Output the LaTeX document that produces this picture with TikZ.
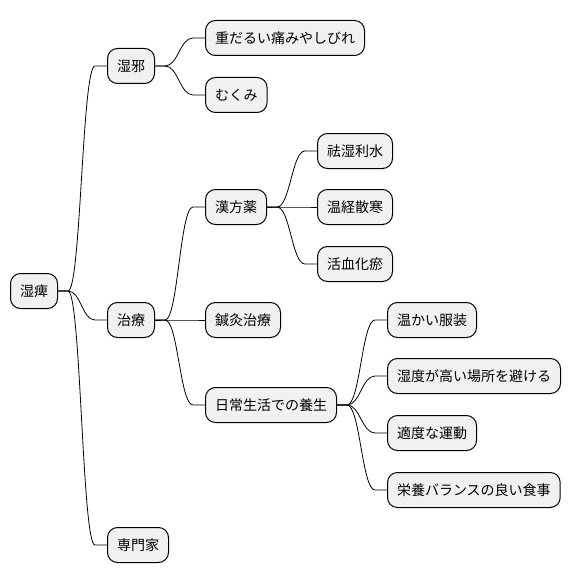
\documentclass[tikz,border=0pt]{standalone}
\usepackage{fontspec}
\newfontfamily\jpfont{Noto Sans CJK JP}
\usepackage{tikz}
\definecolor{topicGray}{RGB}{241,241,241}

\begin{document}
\begin{tikzpicture}[x=1pt,y=-1pt,every node/.style={anchor=west},
  topic/.style={draw,line width=1pt,rounded corners=10pt,fill=topicGray,font=\jpfont\fontsize{14}{16}\selectfont,inner xsep=9.5pt,minimum height=35pt}]
\useasboundingbox (0,0) rectangle (572,583);
% root and first level
\node[topic] (root) at (10,291) {湿痺};
\node[topic] (jaki) at (107,66) {湿邪};
\node[topic] (chiryo) at (107,320) {治療};
\node[topic] (senmon) at (107,545) {専門家};
% second level
\node[topic] (itami) at (205,38) {重だるい痛みやしびれ};
\node[topic] (mukumi) at (205,95) {むくみ};
\node[topic] (kampo) at (205,207) {漢方薬};
\node[topic] (shinkyu) at (205,320) {鍼灸治療};
\node[topic] (yojo) at (205,405) {日常生活での養生};
% third level
\node[topic] (kyoshitsu) at (317,151) {祛湿利水};
\node[topic] (onkei) at (317,207) {温経散寒};
\node[topic] (kakketsu) at (317,264) {活血化瘀};
\node[topic] (fukuso) at (387,320) {温かい服装};
\node[topic] (shitsudo) at (387,376) {湿度が高い場所を避ける};
\node[topic] (undo) at (387,433) {適度な運動};
\node[topic] (eiyo) at (387,490) {栄養バランスの良い食事};
% branches
\foreach \p/\c in {root/jaki,root/chiryo,root/senmon,jaki/itami,jaki/mukumi,
  chiryo/kampo,chiryo/shinkyu,chiryo/yojo,kampo/kyoshitsu,kampo/onkei,kampo/kakketsu,
  yojo/fukuso,yojo/shitsudo,yojo/undo,yojo/eiyo}
  \draw[line width=0.8pt] (\p.east) -- ++(10,0) .. controls +(13,0) and +(-13,0) .. ([xshift=-12pt]\c.west) -- (\c.west);
\end{tikzpicture}
\end{document}
